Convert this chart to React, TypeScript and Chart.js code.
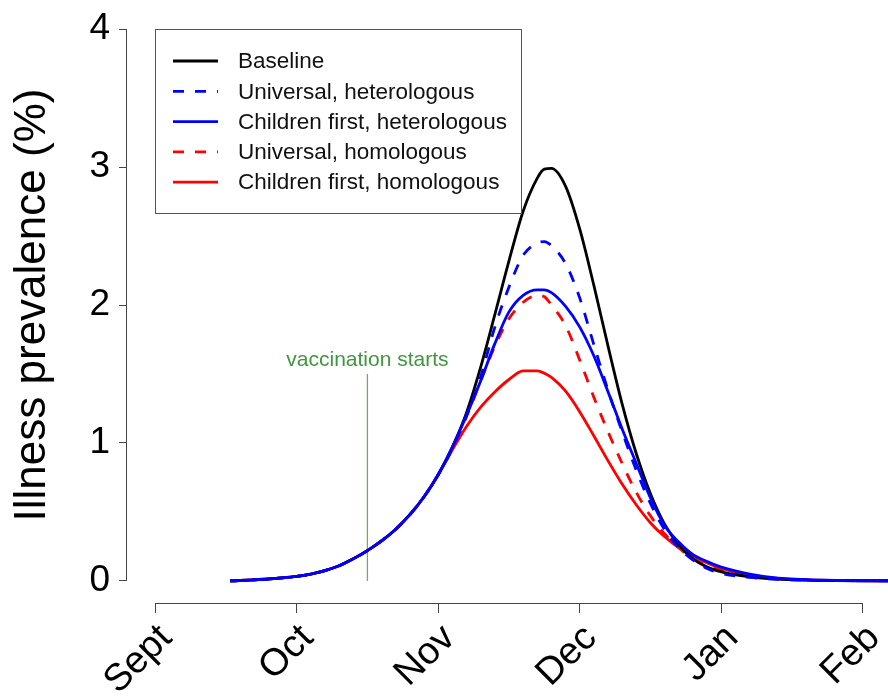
import React, { useEffect, useRef } from "react";
import { Chart, registerables } from "chart.js";

Chart.register(...registerables);

const monthLabels = ["Sept", "Oct", "Nov", "Dec", "Jan", "Feb"];
const monthTicks = [0, 1, 2, 3, 4, 5];
const yTicks = [0, 1, 2, 3, 4];

// time in months since 1 Sept
const timeMonths = [
  0.53, 0.6, 0.7, 0.8, 0.9, 1.0, 1.1, 1.2, 1.3, 1.4, 1.5, 1.6, 1.7, 1.8, 1.9, 2.0,
  2.1, 2.2, 2.3, 2.4, 2.5, 2.6, 2.7, 2.75, 2.8, 2.9, 3.0, 3.1, 3.2, 3.3, 3.4, 3.5,
  3.6, 3.7, 3.8, 3.9, 4.0, 4.2, 4.4, 4.6, 4.8, 5.0, 5.2,
];

const baseline = [
  0, 0.003, 0.008, 0.014, 0.022, 0.033, 0.05, 0.075, 0.11, 0.16, 0.22, 0.29, 0.375, 0.48, 0.61, 0.77,
  0.97, 1.22, 1.55, 1.93, 2.32, 2.68, 2.92, 2.985, 2.99, 2.86, 2.55, 2.14, 1.7, 1.28, 0.92, 0.63,
  0.41, 0.26, 0.16, 0.1, 0.065, 0.03, 0.013, 0.006, 0.003, 0.001, 0,
];
const universalHeterologous = [
  0, 0.003, 0.008, 0.014, 0.022, 0.033, 0.05, 0.075, 0.11, 0.16, 0.22, 0.29, 0.375, 0.48, 0.61, 0.77,
  0.96, 1.2, 1.48, 1.84, 2.13, 2.36, 2.45, 2.46, 2.43, 2.3, 2.05, 1.71, 1.38, 1.08, 0.8, 0.56,
  0.37, 0.24, 0.15, 0.09, 0.055, 0.025, 0.011, 0.005, 0.002, 0.001, 0,
];
const childrenHeterologous = [
  0, 0.003, 0.008, 0.014, 0.022, 0.033, 0.05, 0.075, 0.11, 0.16, 0.22, 0.29, 0.375, 0.48, 0.61, 0.77,
  0.97, 1.2, 1.45, 1.72, 1.95, 2.07, 2.11, 2.11, 2.09, 1.99, 1.84, 1.63, 1.37, 1.1, 0.85, 0.6,
  0.4, 0.28, 0.19, 0.14, 0.1, 0.05, 0.02, 0.009, 0.004, 0.002, 0.001,
];
const universalHomologous = [
  0, 0.003, 0.008, 0.014, 0.022, 0.033, 0.05, 0.075, 0.11, 0.16, 0.22, 0.29, 0.375, 0.48, 0.61, 0.77,
  0.96, 1.19, 1.45, 1.7, 1.9, 2.02, 2.07, 2.06, 2.0, 1.85, 1.6, 1.33, 1.08, 0.85, 0.64, 0.47,
  0.34, 0.24, 0.16, 0.11, 0.075, 0.035, 0.015, 0.007, 0.003, 0.001, 0,
];
const childrenHomologous = [
  0, 0.003, 0.008, 0.014, 0.022, 0.033, 0.05, 0.075, 0.11, 0.16, 0.22, 0.29, 0.375, 0.48, 0.61, 0.77,
  0.95, 1.12, 1.26, 1.37, 1.46, 1.522, 1.522, 1.505, 1.475, 1.375, 1.225, 1.05, 0.87, 0.7, 0.55, 0.42,
  0.32, 0.24, 0.18, 0.13, 0.09, 0.04, 0.018, 0.008, 0.004, 0.002, 0.001,
];

const vaccinationMonth = [1.5, 1.5];
const vaccinationLevel = [0, 1.5];
const vaccinationLabel = "vaccination starts";

const seriesLabels = [
  "Baseline",
  "Universal, heterologous",
  "Children first, heterologous",
  "Universal, homologous",
  "Children first, homologous",
];

const FONT = "'Liberation Sans', Arial, Helvetica, sans-serif";

const toPoints = (ys: number[]) => timeMonths.map((x, i) => ({ x, y: ys[i] }));

const axisLinesPlugin = {
  id: "rAxisLines",
  afterDraw(chart: any) {
    const { ctx, chartArea } = chart;
    const xs = chart.scales.x;
    const ys = chart.scales.y;
    ctx.save();
    ctx.strokeStyle = "#444";
    ctx.lineWidth = 1;
    ctx.beginPath();
    const ax = Math.round(chartArea.left) + 0.5;
    ctx.moveTo(ax, ys.getPixelForValue(yTicks[0]));
    ctx.lineTo(ax, ys.getPixelForValue(yTicks[yTicks.length - 1]));
    const ay = Math.round(chartArea.bottom) + 0.5;
    ctx.moveTo(xs.getPixelForValue(monthTicks[0]), ay);
    ctx.lineTo(xs.getPixelForValue(monthTicks[monthTicks.length - 1]), ay);
    ctx.stroke();
    ctx.restore();
  },
};

const annotationPlugin = {
  id: "vaccText",
  afterDatasetsDraw(chart: any) {
    const { ctx } = chart;
    const xs = chart.scales.x;
    const ys = chart.scales.y;
    ctx.save();
    ctx.font = `21px ${FONT}`;
    ctx.fillStyle = "#3f963f";
    ctx.textAlign = "center";
    ctx.textBaseline = "middle";
    ctx.fillText(
      vaccinationLabel,
      xs.getPixelForValue(vaccinationMonth[0]),
      ys.getPixelForValue(vaccinationLevel[1]) - 14
    );
    ctx.restore();
  },
};

const legendPlugin = {
  id: "boxLegend",
  afterDatasetsDraw(chart: any) {
    const { ctx, chartArea } = chart;
    const x0 = Math.round(chartArea.left) + 29;
    const y0 = Math.round(chartArea.top) + 22;
    const w = 366;
    const h = 184;
    ctx.save();
    ctx.fillStyle = "#fff";
    ctx.fillRect(x0, y0, w, h);
    ctx.strokeStyle = "#555";
    ctx.lineWidth = 1;
    ctx.strokeRect(x0 + 0.5, y0 + 0.5, w, h);
    const items = chart.data.datasets.filter((d: any) => !d.hideInLegend);
    items.forEach((d: any, i: number) => {
      const y = y0 + 32 + i * 30.3;
      ctx.strokeStyle = d.borderColor;
      ctx.lineWidth = d.borderWidth;
      ctx.setLineDash(d.borderDash || []);
      ctx.beginPath();
      ctx.moveTo(x0 + 18, y);
      ctx.lineTo(x0 + 63, y);
      ctx.stroke();
      ctx.setLineDash([]);
      ctx.fillStyle = "#111";
      ctx.font = `22.5px ${FONT}`;
      ctx.textAlign = "left";
      ctx.textBaseline = "middle";
      ctx.fillText(d.label, x0 + 83, y + 1);
    });
    ctx.restore();
  },
};

export default function App() {
  const canvasRef = useRef<HTMLCanvasElement | null>(null);

  useEffect(() => {
    const canvas = canvasRef.current;
    if (!canvas) return;
    const lw = 2.8;
    const dash = [11, 11];
    const chart = new Chart(canvas, {
      type: "line",
      data: {
        datasets: [
          { label: seriesLabels[0], data: toPoints(baseline), borderColor: "#000000", borderWidth: lw, order: 2 },
          { label: seriesLabels[1], data: toPoints(universalHeterologous), borderColor: "#0000ff", borderWidth: lw, borderDash: dash, order: 1 },
          { label: seriesLabels[2], data: toPoints(childrenHeterologous), borderColor: "#0000ff", borderWidth: lw, order: 0 },
          { label: seriesLabels[3], data: toPoints(universalHomologous), borderColor: "#ff0000", borderWidth: lw, borderDash: dash, order: 3 },
          { label: seriesLabels[4], data: toPoints(childrenHomologous), borderColor: "#ff0000", borderWidth: lw, order: 4 },
          {
            label: vaccinationLabel,
            data: vaccinationMonth.map((x, i) => ({ x, y: vaccinationLevel[i] })),
            borderColor: "#6aae6a",
            borderWidth: 1.3,
            order: 5,
            hideInLegend: true,
            cubicInterpolationMode: "default",
          } as any,
        ].map((d: any) => ({
          pointRadius: 0,
          pointHoverRadius: 0,
          fill: false,
          cubicInterpolationMode: "monotone",
          ...d,
        })),
      },
      options: {
        animation: false,
        responsive: false,
        maintainAspectRatio: false,
        events: [],
        layout: { padding: { top: 7, right: 0, left: 0, bottom: 0 } },
        plugins: {
          legend: { display: false },
          tooltip: { enabled: false },
          title: { display: false },
        },
        scales: {
          x: {
            type: "linear",
            min: -0.205,
            max: 5.177,
            afterBuildTicks: (s: any) => {
              s.ticks = monthTicks.map((v) => ({ value: v }));
            },
            afterFit: (s: any) => {
              s.height = 94;
              s.paddingLeft = 0;
              s.paddingRight = 0;
            },
            border: { display: false },
            grid: { display: true, drawOnChartArea: false, drawTicks: true, tickLength: 10, color: "#444", lineWidth: 1 },
            ticks: {
              autoSkip: false,
              minRotation: 45,
              maxRotation: 45,
              padding: 3,
              labelOffset: 11,
              color: "#000",
              font: { family: FONT, size: 38 },
              callback: (v: any) => monthLabels[monthTicks.indexOf(Number(v))],
            },
          },
          y: {
            type: "linear",
            min: -0.16,
            max: 4.16,
            afterBuildTicks: (s: any) => {
              s.ticks = yTicks.map((v) => ({ value: v }));
            },
            afterFit: (s: any) => {
              s.width = 126;
              s.paddingTop = 0;
              s.paddingBottom = 0;
            },
            border: { display: false },
            grid: { display: true, drawOnChartArea: false, drawTicks: true, tickLength: 7, color: "#444", lineWidth: 1 },
            ticks: {
              padding: 9,
              color: "#000",
              font: { family: FONT, size: 37 },
              callback: (v: any) => String(v),
            },
            title: {
              display: true,
              text: "Illness prevalence (%)",
              color: "#000",
              font: { family: FONT, size: 44 },
              padding: { top: 6, bottom: 0 },
            },
          },
        },
      },
      plugins: [axisLinesPlugin, annotationPlugin, legendPlugin],
    } as any);
    return () => chart.destroy();
  }, []);

  return (
    <div style={{ position: "absolute", left: 0, top: 0, width: 888, height: 697, background: "#fff" }}>
      <canvas ref={canvasRef} width={888} height={697} style={{ display: "block" }} />
    </div>
  );
}
